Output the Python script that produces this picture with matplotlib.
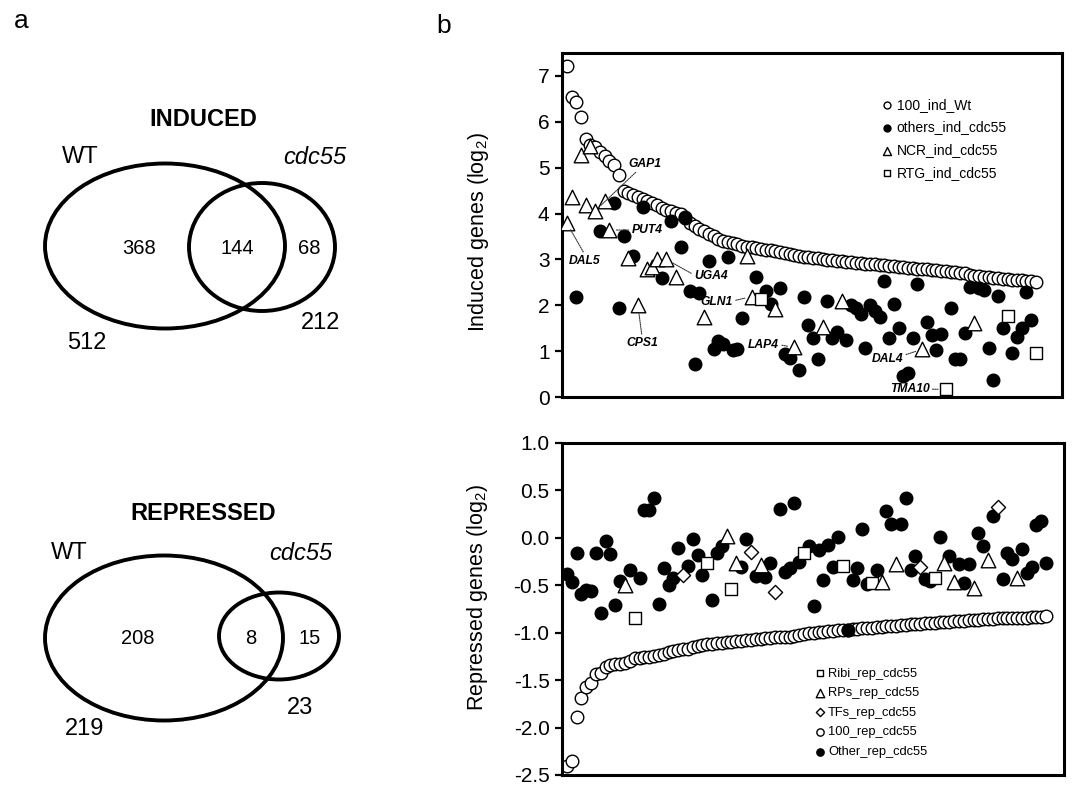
import numpy as np
import matplotlib.pyplot as plt
from matplotlib.patches import Ellipse

plt.rcParams['font.family'] = ['Liberation Sans', 'DejaVu Sans']
plt.rcParams['axes.unicode_minus'] = False
plt.rcParams['mathtext.fontset'] = 'custom'
plt.rcParams['mathtext.rm'] = 'Liberation Sans'

# ---- panel a: Venn counts ----
venn_titles = ['INDUCED', 'REPRESSED']
venn_wt_only = [368, 208]
venn_both = [144, 8]
venn_cdc_only = [68, 15]
venn_wt_total = [512, 219]
venn_cdc_total = [212, 23]

# ---- panel b, top: induced genes (log2) ----
ind_wt = [7.22, 6.55, 6.43, 6.11, 5.62, 5.50, 5.45, 5.35, 5.25, 5.15,
          5.05, 4.85, 4.50, 4.45, 4.40, 4.36, 4.32, 4.28, 4.22, 4.18,
          4.12, 4.08, 4.05, 4.02, 4.00, 3.92, 3.80, 3.72, 3.66, 3.62,
          3.56, 3.50, 3.45, 3.40, 3.37, 3.35, 3.33, 3.30, 3.28, 3.26,
          3.25, 3.23, 3.21, 3.20, 3.18, 3.16, 3.14, 3.12, 3.10, 3.08,
          3.06, 3.05, 3.03, 3.02, 3.00, 2.99, 2.98, 2.97, 2.96, 2.95,
          2.94, 2.93, 2.92, 2.91, 2.90, 2.89, 2.88, 2.87, 2.86, 2.85,
          2.84, 2.83, 2.82, 2.81, 2.80, 2.79, 2.78, 2.77, 2.76, 2.75,
          2.74, 2.73, 2.72, 2.71, 2.70, 2.66, 2.64, 2.63, 2.62, 2.61,
          2.60, 2.59, 2.58, 2.57, 2.56, 2.55, 2.54, 2.53, 2.52, 2.51]
ind_cdc55 = [3.79, 4.35, 2.17, 5.28, 4.19, 5.47, 4.06, 3.62, 4.27, 3.64,
             4.22, 1.95, 3.50, 3.04, 3.07, 2.00, 4.15, 2.79, 2.84, 3.00,
             2.60, 3.00, 3.84, 2.62, 3.26, 3.91, 2.31, 0.73, 2.27, 1.74,
             2.97, 1.05, 1.23, 1.16, 3.06, 1.02, 1.05, 1.73, 3.07, 2.19,
             2.61, 2.13, 2.31, 2.02, 1.91, 2.38, 0.94, 0.84, 1.08, 0.59,
             2.17, 1.57, 1.29, 0.82, 1.53, 2.09, 1.29, 1.42, 2.09, 1.24,
             2.00, 1.93, 1.82, 1.06, 2.00, 1.88, 1.74, 2.53, 1.29, 2.03,
             1.51, 0.46, 0.52, 1.29, 2.46, 1.04, 1.64, 1.35, 1.02, 1.37,
             0.17, 1.95, 0.83, 0.83, 1.40, 2.39, 1.61, 2.37, 2.33, 1.06,
             0.36, 2.20, 1.51, 1.77, 0.95, 1.31, 1.51, 2.30, 1.68, 0.95]
# O = others, N = NCR, R = RTG
ind_group = ("NNONNNNONN" "OOONONONNN" "ONONOOOOON" "OOOOOOOONN" "OROONOOONO"
             "OOOONOOONO" "OOOOOOOOOO" "OOOOONOOOO" "ROOOOONOOO" "OOOROOOOOR")
ind_genes = ['DAL5', 'GAP1', 'PUT4', 'CPS1', 'UGA4', 'GLN1', 'LAP4', 'DAL4', 'TMA10']
ind_gene_pos = [1, 7, 10, 16, 22, 40, 49, 76, 81]

# ---- panel b, bottom: repressed genes (log2) ----
rep_100 = [-2.41, -2.35, -1.89, -1.69, -1.57, -1.53, -1.44, -1.43, -1.36, -1.34,
           -1.33, -1.33, -1.32, -1.30, -1.27, -1.27, -1.26, -1.26, -1.25, -1.24,
           -1.22, -1.20, -1.19, -1.18, -1.17, -1.17, -1.15, -1.14, -1.13, -1.12,
           -1.12, -1.11, -1.11, -1.10, -1.10, -1.09, -1.09, -1.08, -1.08, -1.07,
           -1.07, -1.06, -1.06, -1.05, -1.05, -1.04, -1.04, -1.03, -1.02, -1.01,
           -1.00, -1.00, -0.99, -0.99, -0.98, -0.98, -0.97, -0.97, -0.97, -0.96,
           -0.96, -0.95, -0.95, -0.95, -0.94, -0.94, -0.93, -0.93, -0.93, -0.92,
           -0.92, -0.91, -0.91, -0.91, -0.90, -0.90, -0.90, -0.89, -0.89, -0.89,
           -0.88, -0.88, -0.88, -0.87, -0.87, -0.87, -0.86, -0.86, -0.86, -0.85,
           -0.85, -0.85, -0.84, -0.84, -0.84, -0.84, -0.83, -0.83, -0.83, -0.82]
rep_cdc55 = [-0.38, -0.47, -0.16, -0.59, -0.55, -0.56, -0.16, -0.79, -0.03, -0.17,
             -0.71, -0.46, -0.50, -0.34, -0.85, -0.42, 0.29, 0.29, 0.42, -0.70,
             -0.32, -0.50, -0.42, -0.11, -0.39, -0.30, -0.01, -0.18, -0.39, -0.27,
             -0.66, -0.16, -0.09, 0.02, -0.54, -0.27, -0.31, -0.01, -0.15, -0.40,
             -0.29, -0.41, -0.27, -0.57, 0.30, -0.36, -0.32, 0.37, -0.25, -0.16,
             -0.09, -0.72, -0.13, -0.44, -0.08, -0.31, 0.01, -0.30, -0.97, -0.44,
             -0.32, 0.09, -0.49, -0.48, -0.34, -0.47, 0.28, 0.15, -0.28, 0.15,
             0.42, -0.34, -0.19, -0.31, -0.43, -0.45, -0.42, 0.01, -0.26, -0.19,
             -0.47, -0.28, -0.48, -0.28, -0.53, 0.05, -0.09, -0.23, 0.23, 0.32,
             -0.43, -0.16, -0.22, -0.42, -0.12, -0.37, -0.31, 0.14, 0.18, -0.27]
# C = other, S = Ribi, T = RPs, D = TFs
rep_group = ("CCCCCCCCCC" "CCTCSCCCCC" "CCCCDCCCCS" "CCCTSTCCDC" "TCCDCCCCCS"
             "CCCCCCCSCC" "CCCSCTCCTC" "CCCDCCSCTC" "TCCCTCCTCD" "CCCTCCCCCC")

fig = plt.figure(figsize=(10.72, 7.86), dpi=100)

# panel a drawn in pixel coordinates
ax0 = fig.add_axes([0, 0, 1, 1])
ax0.set_xlim(0, 1072)
ax0.set_ylim(786, 0)
ax0.axis('off')
ax0.text(21, 28, 'a', fontsize=19, ha='center', va='baseline')
ax0.text(444, 33, 'b', fontsize=19, ha='center', va='baseline')

venn_layout = [
    dict(title=(203, 120), wt=(80, 157), cdc=(315, 158), wt_ell=(165, 246, 240, 165),
         cdc_ell=(262, 247, 146, 128), nums=(139, 237, 309, 248), wt_tot=(87, 343), cdc_tot=(321, 323)),
    dict(title=(203, 513), wt=(69, 553), cdc=(301, 553), wt_ell=(164, 638, 238, 165),
         cdc_ell=(279, 636, 120, 87), nums=(138, 251, 310, 639), wt_tot=(85, 729), cdc_tot=(300, 708)),
]
for i, lay in enumerate(venn_layout):
    ax0.text(*lay['title'], venn_titles[i], fontsize=17, fontweight='bold', ha='center', va='center')
    ax0.text(*lay['wt'], 'WT', fontsize=17, ha='center', va='center')
    ax0.text(*lay['cdc'], 'cdc55', fontsize=17, style='italic', ha='center', va='center')
    cx, cy, w, h = lay['wt_ell']
    ax0.add_patch(Ellipse((cx, cy), w, h, fill=False, lw=2.8, ec='black'))
    cx, cy, w, h = lay['cdc_ell']
    ax0.add_patch(Ellipse((cx, cy), w, h, fill=False, lw=2.8, ec='black'))
    x1, x2, x3, yn = lay['nums']
    ax0.text(x1, yn, str(venn_wt_only[i]), fontsize=14.5, ha='center', va='center')
    ax0.text(x2, yn, str(venn_both[i]), fontsize=14.5, ha='center', va='center')
    ax0.text(x3, yn, str(venn_cdc_only[i]), fontsize=14.5, ha='center', va='center')
    ax0.text(*lay['wt_tot'], str(venn_wt_total[i]), fontsize=17, ha='center', va='center')
    ax0.text(*lay['cdc_tot'], str(venn_cdc_total[i]), fontsize=17, ha='center', va='center')


def style_axes(ax):
    for sp in ax.spines.values():
        sp.set_linewidth(2.2)
    ax.set_xticks([])
    ax.tick_params(axis='y', direction='out', length=5, width=1.6, labelsize=15, pad=4)


# ---- top scatter ----
ax1 = fig.add_axes([0.5243, 0.4949, 0.4664, 0.4377])
style_axes(ax1)
x_ind = np.arange(1, len(ind_wt) + 1)
ind_vals = np.array(ind_cdc55)
ind_codes = np.array(list(ind_group))
ax1.scatter(x_ind, ind_wt, s=82, marker='o', facecolor='white', edgecolor='black',
            linewidth=1.0, zorder=2, label='100_ind_Wt')
ind_styles = [('O', 'o', 'black', 82, 'others_ind_cdc55'),
              ('N', '^', 'white', 110, 'NCR_ind_cdc55'),
              ('R', 's', 'white', 72, 'RTG_ind_cdc55')]
for code, mk, fc, s, lab in ind_styles:
    m = ind_codes == code
    ax1.scatter(x_ind[m], ind_vals[m], s=s, marker=mk, facecolor=fc, edgecolor='black',
                linewidth=1.0, zorder=3, label=lab)
ax1.set_xlim(0, 105.5)
ax1.set_ylim(0, 7.5)
ax1.set_yticks(range(0, 8))
ax1.set_ylabel('Induced genes (log$_2$)', fontsize=15.5)
ax1.yaxis.set_label_coords(-0.143, 0.48)
ax1.legend(loc='upper left', bbox_to_anchor=(0.636, 0.870), frameon=False, fontsize=10,
           markerscale=0.55, handlelength=1.0, handletextpad=0.2, labelspacing=0.63,
           borderpad=0, borderaxespad=0)

# gene labels: (text offset in points, anchor point of leader on text box)
note_offsets = [(13, -27), (36, 34), (27, 0), (3, -27), (32, -12), (-25, -4), (-22, 2), (-25, -7), (-26, 0)]
note_relpos = [(0.5, 1), (0.3, 0), (0, 0.5), (0.5, 1), (0, 0.6), (1, 0.6), (1, 0.5), (1, 0.8), (1, 0.5)]
for gene, pos, off, rp in zip(ind_genes, ind_gene_pos, note_offsets, note_relpos):
    ax1.annotate(gene, xy=(pos, ind_cdc55[pos - 1]), xytext=off, textcoords='offset points',
                 ha='center', va='center', fontsize=8.7, fontweight='bold', style='italic',
                 zorder=4,
                 arrowprops=dict(arrowstyle='-', linestyle=(0, (1, 1)), lw=0.8, color='#333333',
                                 shrinkA=0, shrinkB=5, relpos=rp))

# ---- bottom scatter ----
ax2 = fig.add_axes([0.5243, 0.014, 0.4683, 0.4224])
style_axes(ax2)
x_rep = np.arange(1, len(rep_100) + 1)
rep_vals = np.array(rep_cdc55)
rep_codes = np.array(list(rep_group))
rep_handles = {}
rep_handles['100'] = ax2.scatter(x_rep, rep_100, s=82, marker='o', facecolor='white',
                                 edgecolor='black', linewidth=1.0, zorder=2, label='100_rep_cdc55')
rep_styles = [('C', 'o', 'black', 82, 'Other_rep_cdc55'),
              ('S', 's', 'white', 72, 'Ribi_rep_cdc55'),
              ('T', '^', 'white', 110, 'RPs_rep_cdc55'),
              ('D', 'D', 'white', 52, 'TFs_rep_cdc55')]
for code, mk, fc, s, lab in rep_styles:
    m = rep_codes == code
    rep_handles[code] = ax2.scatter(x_rep[m], rep_vals[m], s=s, marker=mk, facecolor=fc,
                                    edgecolor='black', linewidth=1.0, zorder=3, label=lab)
ax2.set_xlim(0, 103.7)
ax2.set_ylim(-2.5, 1.0)
ax2.set_yticks(np.arange(-2.5, 1.01, 0.5))
ax2.set_yticklabels(['%.1f' % v for v in np.arange(-2.5, 1.01, 0.5)])
ax2.set_ylabel('Repressed genes (log$_2$)', fontsize=15.5)
ax2.yaxis.set_label_coords(-0.143, 0.535)
order = ['S', 'T', 'D', '100', 'C']
ax2.legend([rep_handles[k] for k in order], [rep_handles[k].get_label() for k in order],
           loc='upper left', bbox_to_anchor=(0.5, 0.323), frameon=False, fontsize=9.3,
           markerscale=0.58, handlelength=1.0, handletextpad=0.15, labelspacing=0.58,
           borderpad=0, borderaxespad=0)

fig.savefig('out.png', dpi=100)
